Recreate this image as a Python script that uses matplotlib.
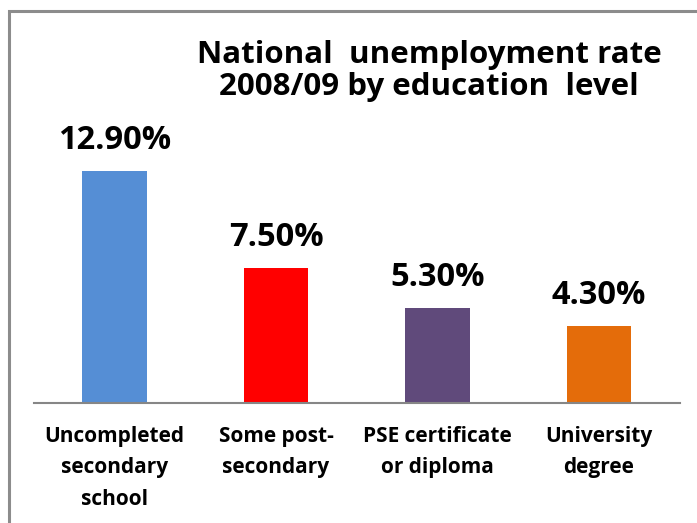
import matplotlib.pyplot as plt
from matplotlib.patches import Rectangle

categories = ['Uncompleted\nsecondary\nschool', 'Some post-\nsecondary',
              'PSE certificate\nor diploma', 'University\ndegree']
rates = [12.9, 7.5, 5.3, 4.3]
labels = ['12.90%', '7.50%', '5.30%', '4.30%']
colors = ['#558ED5', '#FF0000', '#604A7B', '#E46C0A']

plt.rcParams['font.family'] = ['Open Sans', 'DejaVu Sans']

fig = plt.figure(figsize=(6.97, 5.23), dpi=100)

# grey frame, cut off at right and bottom like the screenshot
fig.patches.append(Rectangle((8.5 / 697, -0.1), 1.2, 1.1 - 11.5 / 523,
                             transform=fig.transFigure, fill=False,
                             edgecolor='#8c8c8c', linewidth=2.2))

ax = fig.add_axes([33.75 / 697, 1 - 403 / 523, 646 / 697, 252 / 523])
x = range(len(rates))
ax.bar(x, rates, width=0.4, color=colors)
ax.set_xlim(-0.5, 3.5)
ax.set_ylim(0, 14.0)

for i, (v, t) in enumerate(zip(rates, labels)):
    ax.annotate(t, (i, v), xytext=(0, 10), textcoords='offset points',
                ha='center', va='bottom', fontsize=23.5, fontweight='bold')

ax.set_xticks(list(x))
ax.set_xticklabels(categories, fontsize=15, fontweight='bold')
for lbl in ax.get_xticklabels():
    lbl.set_linespacing(1.65)
ax.tick_params(axis='x', length=0, pad=16.5)
ax.set_yticks([])
for s in ['top', 'right', 'left']:
    ax.spines[s].set_visible(False)
ax.spines['bottom'].set_color('#868686')
ax.spines['bottom'].set_linewidth(1.5)

fig.text(429 / 697, 1 - 71 / 523, 'National  unemployment rate\n2008/09 by education  level',
         ha='center', va='center', fontsize=22.5, fontweight='bold',
         linespacing=1.05)

fig.savefig('out.png', dpi=100)
